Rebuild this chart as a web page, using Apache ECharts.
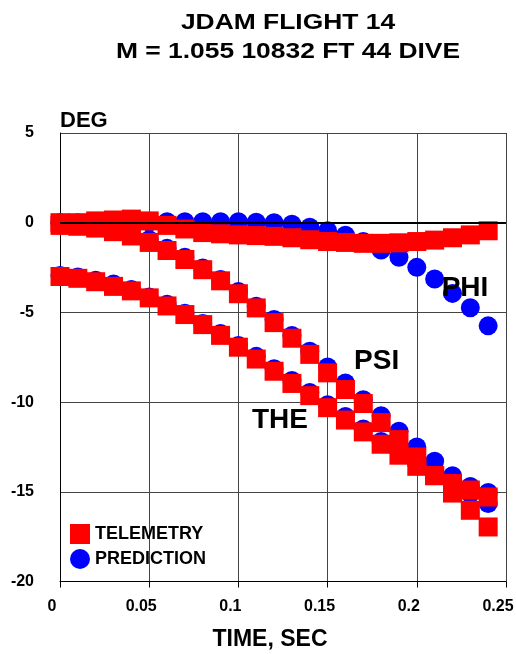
<!DOCTYPE html>
<html><head><meta charset="utf-8">
<script src="https://cdn.jsdelivr.net/npm/echarts@6/dist/echarts.min.js"></script>
<style>html,body{margin:0;padding:0;background:#fff}#c{width:516px;height:654px}</style>
</head><body><div id="c"></div><script>
const times = [0, 0.01, 0.02, 0.03, 0.04, 0.05, 0.06, 0.07, 0.08, 0.09, 0.10, 0.11, 0.12,
  0.13, 0.14, 0.15, 0.16, 0.17, 0.18, 0.19, 0.20, 0.21, 0.22, 0.23, 0.24];
const phiTelemetry = [0.0, 0.0, 0.1, 0.15, 0.2, 0.1, -0.15, -0.35, -0.55, -0.62, -0.68, -0.72, -0.76,
  -0.84, -0.95, -1.05, -1.1, -1.15, -1.15, -1.12, -1.05, -0.97, -0.84, -0.68, -0.45];
const phiPrediction = [0.0, 0.0, 0.0, 0.02, 0.03, 0.04, 0.05, 0.05, 0.05, 0.05, 0.05, 0.03, 0.0,
  -0.08, -0.25, -0.45, -0.7, -1.05, -1.52, -1.93, -2.49, -3.14, -3.94, -4.74, -5.75];
const psiTelemetry = [-0.15, -0.2, -0.3, -0.5, -0.74, -1.1, -1.55, -2.05, -2.62, -3.24, -3.96, -4.75, -5.57,
  -6.44, -7.34, -8.37, -9.3, -10.08, -11.14, -12.09, -13.06, -14.1, -15.07, -16.03, -16.96];
const psiPrediction = [0.0, -0.1, -0.2, -0.35, -0.6, -0.95, -1.43, -1.93, -2.52, -3.17, -3.84, -4.66, -5.4,
  -6.29, -7.17, -8.04, -8.93, -9.87, -10.76, -11.63, -12.5, -13.3, -14.1, -14.7, -15.04];
const theTelemetry = [-3.0, -3.1, -3.29, -3.55, -3.8, -4.19, -4.64, -5.12, -5.68, -6.28, -6.94, -7.6, -8.28,
  -8.96, -9.64, -10.31, -11.0, -11.66, -12.35, -12.96, -13.58, -14.1, -14.54, -14.9, -15.29];
const thePrediction = [-2.95, -3.02, -3.21, -3.41, -3.73, -4.14, -4.55, -5.05, -5.62, -6.18, -6.85, -7.45, -8.14,
  -8.79, -9.46, -10.15, -10.8, -11.5, -12.2, -12.8, -13.4, -14.0, -14.6, -15.1, -15.65];
const xTickLabels = ['0', '0.05', '0.1', '0.15', '0.2', '0.25'];
const yTickLabels = ['-20', '-15', '-10', '-5', '0', '5'];
const curveNames = ['PHI', 'PSI', 'THE'];
const curveLabelAt = [[0.227, -3.63], [0.1775, -7.74], [0.1233, -10.99]];
const titleLines = ['JDAM FLIGHT 14', 'M = 1.055 10832 FT 44 DIVE'];

const FONT = '"Liberation Sans", Arial, Helvetica, sans-serif';
const pts = arr => times.map((t, i) => [t, arr[i]]);

const predStyle = {type: 'scatter', name: 'PREDICTION', symbol: 'circle', symbolSize: 19,
  itemStyle: {color: '#0000ff', opacity: 1}, silent: true, z: 2};
const telStyle = {type: 'scatter', name: 'TELEMETRY', symbol: 'rect', symbolSize: 19,
  itemStyle: {color: '#ff0000', opacity: 1}, silent: true, z: 3};

const series = [
  Object.assign({}, predStyle, {data: pts(phiPrediction)}),
  Object.assign({}, predStyle, {data: pts(psiPrediction)}),
  Object.assign({}, predStyle, {data: pts(thePrediction)}),
  Object.assign({}, telStyle, {data: pts(phiTelemetry)}),
  Object.assign({}, telStyle, {data: pts(psiTelemetry)}),
  Object.assign({}, telStyle, {data: pts(theTelemetry),
    markPoint: {
      silent: true, symbol: 'circle', symbolSize: 0,
      label: {show: true, position: 'inside', color: '#000', fontFamily: FONT, fontWeight: 'bold', fontSize: 28,
        formatter: p => p.name},
      data: curveNames.map((n, i) => ({name: n, coord: curveLabelAt[i]}))
    },
    markLine: {
      silent: true, symbol: 'none', label: {show: false},
      lineStyle: {color: '#000', width: 2, type: 'solid'},
      data: [{yAxis: 0}]
    }
  })
];

const chart = echarts.init(document.getElementById('c'), null, {renderer: 'canvas'});
chart.setOption({
  animation: false,
  backgroundColor: '#fff',
  grid: {left: 60, right: 10, top: 133, bottom: 72.5, containLabel: false, outerBoundsMode: 'none'},
  graphic: titleLines.map((t, i) => ({
    type: 'text', x: 288, y: i === 0 ? 23 : 52, scaleX: 1.2, silent: true,
    style: {text: t, fill: '#000', fontFamily: FONT, fontWeight: 'bold', fontSize: 22,
      align: 'center', verticalAlign: 'middle', textAlign: 'center', textVerticalAlign: 'middle'}
  })),
  legend: {
    orient: 'vertical', left: 70, top: 524, padding: 0, itemWidth: 20, itemHeight: 20, itemGap: 5,
    selectedMode: false,
    data: [{name: 'TELEMETRY', icon: 'rect'}, {name: 'PREDICTION', icon: 'circle'}],
    textStyle: {color: '#000', fontFamily: FONT, fontWeight: 'bold', fontSize: 18}
  },
  xAxis: {
    type: 'value', min: 0, max: 0.25, interval: 0.05,
    name: 'TIME, SEC', nameLocation: 'middle', nameGap: 47,
    nameTextStyle: {color: '#000', fontFamily: FONT, fontWeight: 'bold', fontSize: 23, padding: [0, 26, 0, 0]},
    axisLine: {onZero: false, lineStyle: {color: '#000', width: 1}},
    axisTick: {show: true, inside: false, length: 6, lineStyle: {color: '#000'}},
    axisLabel: {color: '#000', fontFamily: FONT, fontWeight: 'bold', fontSize: 16, margin: 17,
      padding: [0, 16, 0, 0], formatter: (v, i) => xTickLabels[i]},
    splitLine: {show: true, lineStyle: {color: '#444', width: 1}}
  },
  yAxis: {
    type: 'value', min: -20, max: 5, interval: 5,
    name: 'DEG', nameLocation: 'end', nameGap: 12,
    nameTextStyle: {color: '#000', fontFamily: FONT, fontWeight: 'bold', fontSize: 22, align: 'left', verticalAlign: 'middle'},
    axisLine: {show: true, onZero: false, lineStyle: {color: '#000', width: 1}},
    axisTick: {show: false},
    axisLabel: {color: '#000', fontFamily: FONT, fontWeight: 'bold', fontSize: 16, margin: 26,
      formatter: (v, i) => yTickLabels[i]},
    splitLine: {show: true, lineStyle: {color: '#444', width: 1}}
  },
  series: series
});
</script></body></html>
